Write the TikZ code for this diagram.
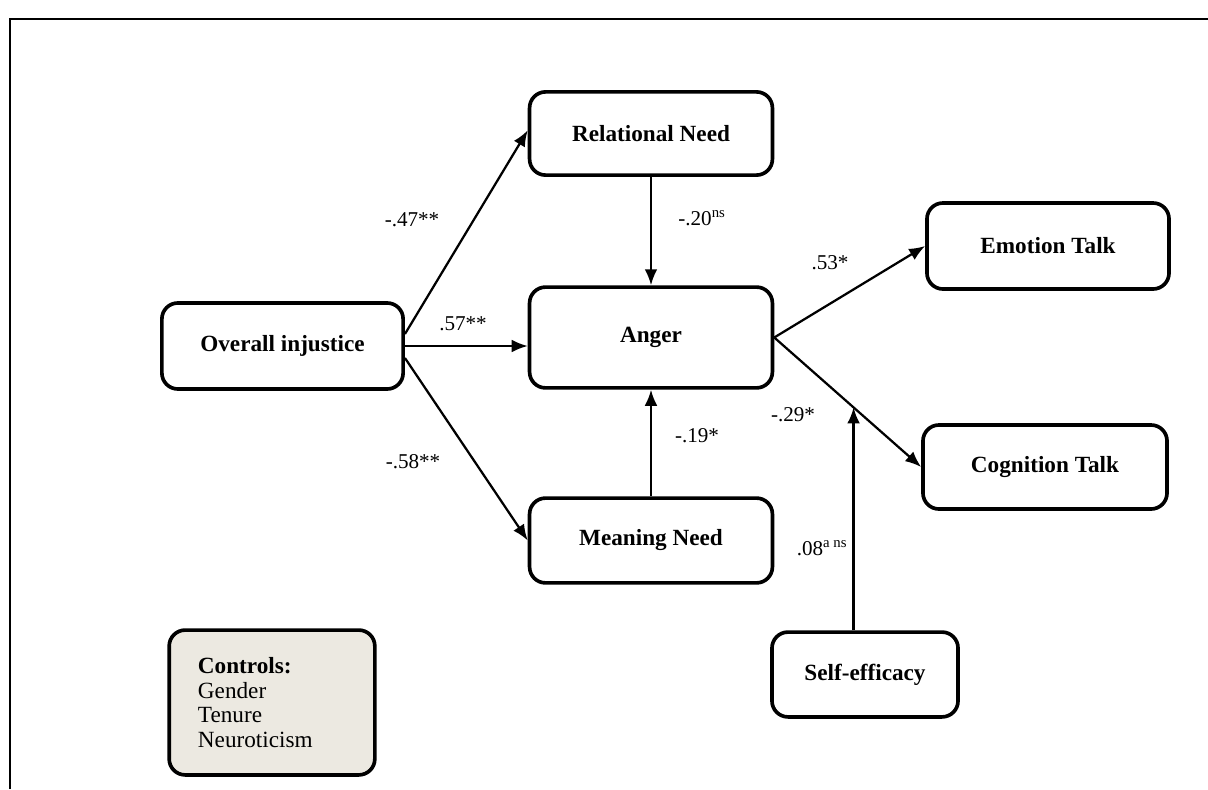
\documentclass[tikz,border=0pt]{standalone}
\usepackage{fontspec}
\setmainfont{Liberation Serif}
\usetikzlibrary{arrows.meta, positioning}
\definecolor{ctrlfill}{RGB}{236,233,225}

\begin{document}
\begin{tikzpicture}[x=0.025cm, y=-0.025cm]
\tikzset{
  box/.style={draw, line width=2.6pt, rounded corners=0.4cm, align=center, inner sep=0pt,
    font=\fontsize{16.5}{18}\selectfont\bfseries},
  path/.style={line width=1.6pt, -{Latex[length=0.4cm, width=0.32cm]}},
  coef/.style={font=\fontsize{15}{17}\selectfont, inner sep=0pt}
}
\useasboundingbox (0,0) rectangle (1208,789);
\draw[line width=2pt] (10,789) -- (10,19) -- (1208,19);

% variables
\node[box, minimum width=6.03cm, minimum height=2.15cm] (over) at (282.5,346) {Overall injustice};
\node[box, minimum width=6.07cm, minimum height=2.08cm] (rel) at (651,133.5) {Relational Need};
\node[box, minimum width=6.07cm, minimum height=2.52cm] (anger) at (651,337.5) {Anger};
\node[box, minimum width=6.07cm, minimum height=2.12cm] (mean) at (651,540.5) {Meaning Need};
\node[box, minimum width=6.05cm, minimum height=2.15cm] (emo) at (1048,246) {Emotion Talk};
\node[box, minimum width=6.1cm, minimum height=2.1cm] (cog) at (1045,467) {Cognition Talk};
\node[box, minimum width=4.65cm, minimum height=2.12cm] (self) at (865,674.5) {Self-efficacy};
\node[box, fill=ctrlfill, align=left, inner xsep=0.72cm, text width=3.7cm, minimum height=3.62cm,
  font=\fontsize{16.5}{17.7}\selectfont] (ctrl) at (272,702.5) {\textbf{Controls:}\\Gender\\Tenure\\Neuroticism};

% paths
\draw[path] ([yshift=0.3cm]over.east) -- ([yshift=0.08cm]rel.west);
\draw[path] (over.east) -- (over.east -| anger.west);
\draw[path] ([yshift=-0.3cm]over.east) -- (mean.west);
\draw[path] (rel.south) -- (anger.north);
\draw[path] (mean.north) -- (anger.south);
\draw[path] (anger.east) -- (emo.west);
\draw[path] (anger.east) -- coordinate[pos=0.54] (mod) (cog.west);
\draw[path] (self.north -| mod) -- (mod);

% coefficients
\node[coef] (c47) at (412,220) {-.47**};
\node[coef] (c57) at (463,324) {.57**};
\node[coef] (c58) at (413,462) {-.58**};
\node[coef] (c20) at (702,218) {-.20\textsuperscript{ns}};
\node[coef] (c19) at (697,436) {-.19*};
\node[coef] (c53) at (830,263) {.53*};
\node[coef] (c29) at (793,415) {-.29*};
\node[coef] (c08) at (822,548) {.08\textsuperscript{a ns}};
\end{tikzpicture}
\end{document}
